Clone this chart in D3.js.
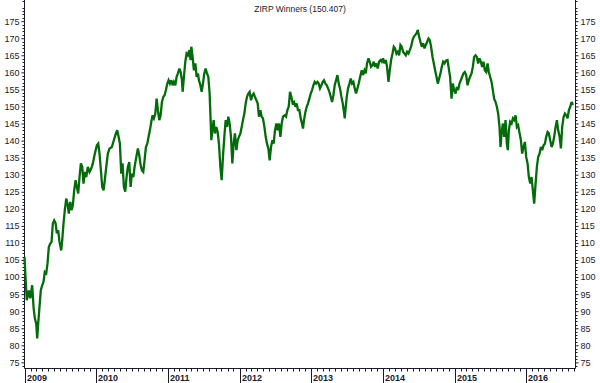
<!DOCTYPE html>
<html>
<head>
<meta charset="utf-8">
<script src="https://cdn.jsdelivr.net/npm/d3@7"></script>
<style>
  body { margin: 0; background: #fff; }
  svg text { font-family: Arial, "Liberation Sans", sans-serif; }
</style>
</head>
<body>
<div id="chart"></div>
<script>
const title = "ZIRP Winners (150.407)";
const startYear = 2009;
const endDate = new Date(2016, 8, 7);
const majorTicks = d3.range(75, 176, 5);

// years since Jan 1 2009
const yearOffset = [
  0.000, 0.014, 0.032, 0.060, 0.080, 0.107, 0.126, 0.144, 0.163, 0.177, 0.191, 0.209, 0.227, 0.247, 0.265, 0.283,
  0.303, 0.321, 0.339, 0.359, 0.377, 0.395, 0.414, 0.433, 0.451, 0.470, 0.488, 0.512, 0.526, 0.544, 0.562, 0.582,
  0.600, 0.618, 0.638, 0.656, 0.674, 0.693, 0.712, 0.730, 0.749, 0.767, 0.786, 0.805, 0.823, 0.841, 0.861, 0.883,
  0.907, 0.931, 0.953, 0.981, 1.009, 1.028, 1.046, 1.065, 1.084, 1.102, 1.120, 1.140, 1.162, 1.186, 1.218, 1.246,
  1.274, 1.293, 1.312, 1.330, 1.349, 1.367, 1.386, 1.405, 1.423, 1.441, 1.461, 1.479, 1.497, 1.517, 1.535, 1.559,
  1.581, 1.600, 1.619, 1.637, 1.656, 1.674, 1.693, 1.712, 1.730, 1.748, 1.768, 1.786, 1.804, 1.824, 1.842, 1.860,
  1.879, 1.898, 1.916, 1.935, 1.953, 1.972, 1.991, 2.009, 2.027, 2.047, 2.065, 2.083, 2.103, 2.121, 2.139, 2.159,
  2.177, 2.195, 2.205, 2.223, 2.242, 2.260, 2.279, 2.298, 2.316, 2.326, 2.344, 2.362, 2.382, 2.400, 2.418, 2.432,
  2.452, 2.470, 2.488, 2.507, 2.525, 2.544, 2.563, 2.581, 2.595, 2.605, 2.619, 2.637, 2.655, 2.675, 2.693, 2.711,
  2.731, 2.749, 2.767, 2.786, 2.805, 2.823, 2.842, 2.860, 2.879, 2.898, 2.916, 2.934, 2.954, 2.972, 2.990, 3.010,
  3.028, 3.046, 3.065, 3.084, 3.102, 3.121, 3.139, 3.158, 3.177, 3.195, 3.213, 3.233, 3.251, 3.269, 3.289, 3.307,
  3.325, 3.345, 3.363, 3.381, 3.400, 3.418, 3.437, 3.456, 3.474, 3.492, 3.512, 3.530, 3.548, 3.568, 3.586, 3.604,
  3.628, 3.646, 3.665, 3.684, 3.702, 3.721, 3.739, 3.758, 3.777, 3.795, 3.813, 3.833, 3.851, 3.869, 3.883, 3.897,
  3.917, 3.935, 3.953, 3.972, 3.991, 4.009, 4.028, 4.046, 4.065, 4.084, 4.102, 4.120, 4.140, 4.158, 4.176, 4.196,
  4.214, 4.232, 4.251, 4.270, 4.288, 4.307, 4.325, 4.344, 4.363, 4.381, 4.399, 4.419, 4.437, 4.451, 4.465, 4.479,
  4.493, 4.511, 4.531, 4.549, 4.567, 4.586, 4.604, 4.623, 4.642, 4.660, 4.678, 4.702, 4.720, 4.740, 4.758, 4.776,
  4.796, 4.814, 4.832, 4.852, 4.870, 4.888, 4.907, 4.925, 4.943, 4.963, 4.981, 4.999, 5.019, 5.037, 5.055, 5.075,
  5.093, 5.111, 5.131, 5.149, 5.167, 5.186, 5.204, 5.223, 5.242, 5.260, 5.278, 5.298, 5.316, 5.334, 5.354, 5.372,
  5.390, 5.410, 5.428, 5.446, 5.465, 5.484, 5.502, 5.521, 5.539, 5.558, 5.577, 5.595, 5.613, 5.633, 5.651, 5.669,
  5.689, 5.707, 5.725, 5.744, 5.763, 5.781, 5.800, 5.818, 5.837, 5.856, 5.874, 5.898, 5.916, 5.934, 5.954, 5.972,
  5.990, 6.010, 6.028, 6.046, 6.065, 6.084, 6.102, 6.121, 6.139, 6.158, 6.177, 6.195, 6.213, 6.233, 6.251, 6.269,
  6.289, 6.307, 6.325, 6.344, 6.363, 6.381, 6.400, 6.418, 6.437, 6.456, 6.474, 6.492, 6.512, 6.530, 6.548, 6.568,
  6.586, 6.604, 6.623, 6.637, 6.651, 6.670, 6.688, 6.707, 6.725, 6.739, 6.753, 6.771, 6.791, 6.809, 6.827, 6.847,
  6.865, 6.883, 6.903, 6.921, 6.939, 6.958, 6.977, 6.995, 7.014, 7.032, 7.051, 7.070, 7.088, 7.106, 7.126, 7.144,
  7.162, 7.182, 7.200, 7.218, 7.237, 7.256, 7.274, 7.293, 7.311, 7.330, 7.349, 7.367, 7.385, 7.405, 7.423, 7.441,
  7.461, 7.479, 7.497, 7.517, 7.535, 7.553, 7.572, 7.590, 7.609, 7.628, 7.646
];

const closes = [
  105.9, 100.0, 93.2, 96.1, 93.8, 97.6, 91.2, 87.9, 86.4, 82.0, 86.4, 91.2, 96.1, 97.6, 98.6, 101.5,
  101.1, 104.0, 108.8, 109.8, 110.3, 115.7, 116.6, 115.8, 112.8, 113.7, 110.3, 107.8, 110.8, 115.7, 119.6, 123.0,
  121.5, 118.6, 122.0, 119.6, 121.0, 125.4, 128.4, 126.4, 124.5, 129.3, 133.3, 132.3, 127.4, 130.8, 129.3, 132.3,
  130.8, 131.8, 133.3, 136.2, 138.6, 139.1, 136.2, 131.3, 126.4, 125.4, 128.5, 132.3, 136.2, 137.7, 138.1, 140.1,
  142.1, 143.0, 141.1, 139.1, 130.3, 133.3, 126.4, 125.0, 129.3, 132.3, 133.7, 126.4, 130.3, 129.3, 132.3, 135.2,
  137.7, 135.7, 132.8, 131.3, 130.8, 134.2, 138.1, 139.1, 141.1, 143.0, 145.5, 147.4, 146.5, 147.9, 152.3, 148.9,
  146.0, 147.4, 151.3, 152.8, 153.3, 154.8, 156.7, 157.7, 156.7, 157.7, 156.2, 157.2, 156.2, 158.7, 159.7, 161.1,
  160.1, 157.7, 154.3, 158.7, 163.1, 165.5, 165.0, 166.5, 163.6, 167.5, 164.5, 160.6, 162.6, 158.7, 159.7, 157.7,
  156.2, 154.3, 156.7, 159.7, 161.1, 159.7, 158.7, 153.8, 146.0, 140.1, 143.0, 146.0, 142.1, 144.0, 142.5, 139.1,
  132.3, 128.4, 135.2, 141.1, 146.0, 144.0, 147.0, 145.0, 141.1, 133.3, 139.1, 142.1, 137.2, 140.1, 141.1, 142.1,
  144.0, 146.0, 147.9, 150.9, 152.8, 153.8, 154.3, 151.8, 153.3, 153.8, 152.8, 151.8, 150.9, 147.0, 148.9, 147.0,
  146.5, 144.0, 141.1, 139.1, 137.7, 134.2, 138.1, 140.1, 139.1, 143.0, 145.0, 143.0, 145.0, 141.1, 145.0, 147.0,
  147.4, 147.0, 148.9, 149.9, 154.3, 152.8, 150.9, 151.3, 149.9, 150.9, 148.9, 148.9, 146.5, 145.0, 143.5, 146.0,
  148.4, 149.9, 150.9, 152.3, 153.8, 154.8, 156.2, 157.2, 156.7, 157.2, 156.7, 155.3, 156.2, 157.2, 157.7, 156.7,
  156.2, 155.3, 154.3, 152.8, 151.3, 153.3, 156.2, 157.7, 159.2, 156.7, 155.3, 152.8, 150.9, 148.9, 146.5, 149.9,
  152.8, 155.3, 156.7, 158.2, 156.7, 157.2, 155.3, 153.8, 155.3, 156.7, 158.5, 160.6, 159.2, 160.6, 159.7, 162.6,
  164.1, 163.1, 161.6, 162.1, 163.1, 161.6, 162.6, 161.1, 163.1, 163.6, 163.1, 164.1, 162.6, 163.6, 161.6, 157.2,
  160.6, 163.6, 165.5, 167.5, 167.0, 165.5, 166.0, 165.0, 168.0, 167.5, 166.0, 165.5, 165.0, 166.0, 165.5, 166.5,
  167.5, 169.4, 170.4, 170.9, 171.4, 172.4, 170.4, 168.9, 167.5, 168.5, 167.0, 168.0, 168.9, 169.9, 169.4, 167.5,
  164.5, 162.6, 160.6, 158.7, 156.7, 158.2, 159.7, 161.6, 163.1, 162.6, 163.4, 163.6, 161.1, 158.7, 152.3, 156.7,
  154.8, 153.8, 155.7, 154.8, 156.7, 157.7, 158.7, 159.7, 160.1, 159.2, 156.2, 157.7, 158.7, 159.7, 161.6, 164.5,
  165.0, 164.5, 162.6, 164.1, 163.1, 161.6, 163.1, 160.6, 160.1, 162.6, 160.1, 158.7, 157.2, 154.8, 152.3, 151.3,
  149.9, 147.9, 144.0, 138.1, 142.1, 145.0, 141.1, 146.0, 139.1, 137.2, 143.0, 145.5, 145.0, 146.5, 146.0, 147.4,
  144.0, 144.5, 142.1, 140.1, 136.2, 138.1, 139.6, 135.2, 133.3, 129.3, 127.4, 129.3, 125.4, 121.5, 127.4, 132.3,
  135.2, 136.2, 138.1, 137.2, 138.6, 139.1, 141.1, 142.5, 142.1, 140.1, 138.1, 139.1, 141.1, 144.0, 146.0, 143.0,
  141.1, 137.7, 144.0, 147.0, 147.9, 147.4, 146.5, 148.9, 149.9, 151.3, 150.407
];

const width = 600, height = 383;
const left = 24.5, right = 575.5, bottom = 368.5;
const ink = "#1a1a2e";

const svg = d3.select("#chart").append("svg")
  .attr("width", width)
  .attr("height", height);

const t0 = new Date(startYear, 0, 1).getTime();
const data = yearOffset.map((o, i) => ({
  date: new Date(t0 + o * 365.25 * 864e5),
  value: closes[i]
}));

const x = d3.scaleTime()
  .domain([new Date(startYear, 0, 1), endDate])
  .range([left, right]);

const y = d3.scaleLinear()
  .domain([73.2, 181.2])
  .range([bottom, 0]);

// y axes, left and right
const minorY = d3.range(74, 182, 1).filter(v => v % 5 !== 0);

function drawYAxis(side) {
  const isLeft = side === "left";
  const gen = (isLeft ? d3.axisLeft(y) : d3.axisRight(y))
    .tickValues(majorTicks)
    .tickSize(3)
    .tickPadding(2);
  const g = svg.append("g")
    .attr("transform", `translate(${isLeft ? left : right},0)`)
    .call(gen);
  g.select(".domain").remove();
  g.selectAll(".tick line").attr("stroke", ink);
  g.selectAll(".tick text")
    .attr("fill", ink)
    .style("font-size", "9px");

  g.selectAll(".minor")
    .data(minorY)
    .enter()
    .append("line")
    .attr("class", "minor")
    .attr("x1", 0)
    .attr("x2", isLeft ? -2 : 2)
    .attr("y1", d => Math.round(y(d)) + 0.5)
    .attr("y2", d => Math.round(y(d)) + 0.5)
    .attr("stroke", ink);

  g.append("line")
    .attr("y1", 0)
    .attr("y2", bottom)
    .attr("stroke", ink);
}
drawYAxis("left");
drawYAxis("right");

// x axis: monthly minor ticks, yearly full height ticks
const xg = svg.append("g");
xg.append("line")
  .attr("x1", left).attr("x2", right)
  .attr("y1", bottom).attr("y2", bottom)
  .attr("stroke", ink);

const months = d3.timeMonth.range(new Date(startYear, 0, 1), endDate)
  .filter(d => d.getMonth() !== 0);
xg.selectAll(".mtick")
  .data(months)
  .enter()
  .append("line")
  .attr("x1", d => Math.round(x(d)) + 0.5)
  .attr("x2", d => Math.round(x(d)) + 0.5)
  .attr("y1", bottom)
  .attr("y2", bottom + 3)
  .attr("stroke", ink);

const years = d3.timeYear.range(new Date(startYear, 0, 1), endDate);
xg.selectAll(".ytick")
  .data(years)
  .enter()
  .append("line")
  .attr("x1", d => Math.round(x(d)) + 0.5)
  .attr("x2", d => Math.round(x(d)) + 0.5)
  .attr("y1", bottom)
  .attr("y2", height)
  .attr("stroke", ink);

xg.selectAll(".ylabel")
  .data(years)
  .enter()
  .append("text")
  .attr("x", d => Math.round(x(d)) + 2)
  .attr("y", 381)
  .attr("fill", ink)
  .style("font-size", "9px")
  .style("font-weight", "bold")
  .text(d => d.getFullYear());

// the series
const line = d3.line()
  .x(d => x(d.date))
  .y(d => y(d.value));

svg.append("path")
  .datum(data)
  .attr("d", line)
  .attr("fill", "none")
  .attr("stroke", "#036b0a")
  .attr("stroke-width", 2.3)
  .attr("stroke-linejoin", "miter")
  .attr("stroke-miterlimit", 3);

svg.append("text")
  .attr("x", width / 2)
  .attr("y", 12)
  .attr("text-anchor", "middle")
  .attr("fill", ink)
  .style("font-size", "8.5px")
  .text(title);
</script>
</body>
</html>
